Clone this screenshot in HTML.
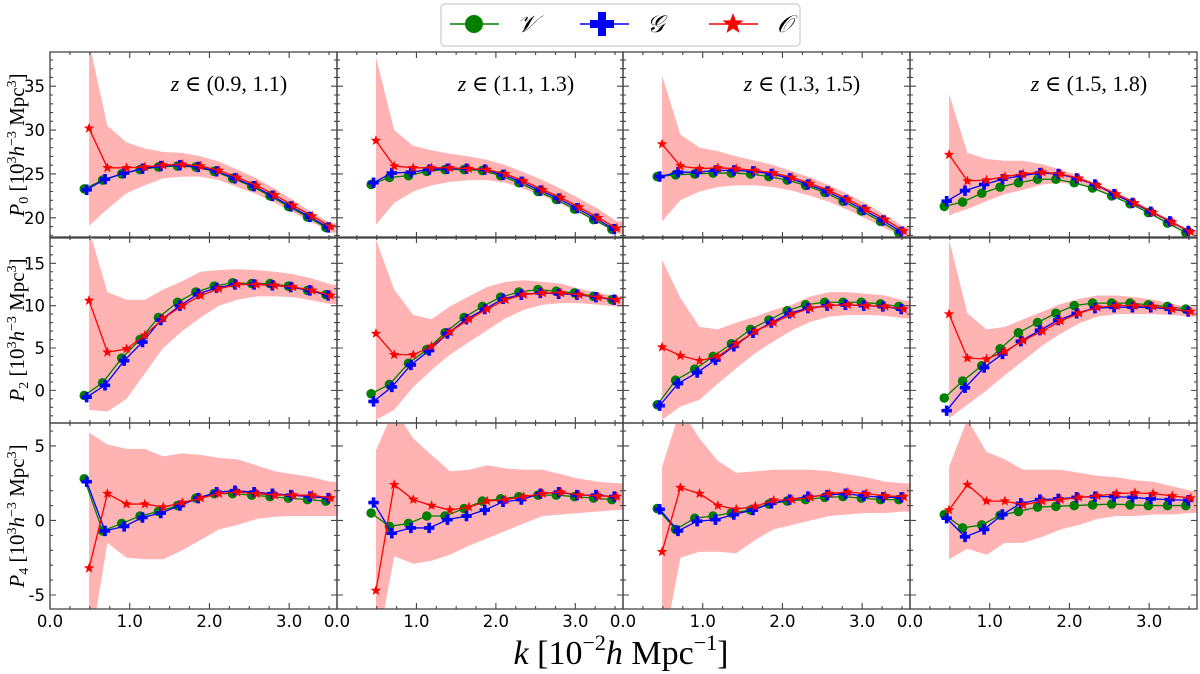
<!DOCTYPE html>
<html><head><meta charset="utf-8"><style>
html,body{margin:0;padding:0;background:#fff;}
svg{display:block;}
text{font-family:"DejaVu Sans","Liberation Sans",sans-serif;}
.serif{font-family:"Liberation Serif","DejaVu Serif",serif;}
</style></head><body>
<svg id="chart" width="1200" height="674" viewBox="0 0 1200 674" xmlns="http://www.w3.org/2000/svg">
<g id="legend">
<rect x="441" y="4" width="359" height="42" rx="4" fill="#fff" stroke="#ccc" stroke-width="1.2"/>
<g>
<line x1="450" y1="24" x2="499" y2="24" stroke="green" stroke-width="1.5"/>
<circle cx="474" cy="24" r="9" fill="green"/>
<text x="517" y="32" class="serif" font-style="italic" font-size="24">𝒱</text>
</g>
<g>
<line x1="580" y1="24" x2="629" y2="24" stroke="blue" stroke-width="1.5"/>
<path d="M598,12h8v8h8v8h-8v8h-8v-8h-8v-8h8z" fill="blue"/>
<text x="647" y="32" class="serif" font-style="italic" font-size="24">𝒢</text>
</g>
<g>
<line x1="709" y1="24" x2="758" y2="24" stroke="red" stroke-width="1.5"/>
<path id="legstar" fill="red"/>
<text x="777" y="32" class="serif" font-style="italic" font-size="24">𝒪</text>
</g>
</g>
<text x="621" y="664" text-anchor="middle" class="serif" font-size="34"><tspan font-style="italic">k</tspan> [10<tspan font-size="22" dy="-14">−2</tspan><tspan dy="14" font-style="italic">h</tspan> Mpc<tspan font-size="22" dy="-14">−1</tspan><tspan dy="14">]</tspan></text>
</svg>
<script>
// shared k grids
const kV = [0.43,0.66,0.90,1.13,1.36,1.60,1.83,2.06,2.29,2.53,2.76,2.99,3.23,3.46];
const kG = [0.46,0.69,0.93,1.16,1.39,1.63,1.86,2.09,2.32,2.56,2.79,3.02,3.26,3.49];
const kO = [0.49,0.72,0.96,1.19,1.42,1.66,1.89,2.12,2.35,2.59,2.82,3.05,3.29,3.52];
const xTicks = [0,1,2,3];
const xTickLabels = ["0.0","1.0","2.0","3.0"];
const zLabels = ["(0.9, 1.1)","(1.1, 1.3)","(1.3, 1.5)","(1.5, 1.8)"];
const yTicksP0 = [20,25,30,35];
const yTicksP2 = [0,5,10,15];
const yTicksP4 = [-5,0,5];
// P0 data [col]
const p0V = [[23.3,24.3,25.0,25.5,25.8,25.9,25.8,25.3,24.5,23.6,22.5,21.3,20.1,18.9],[23.8,24.6,24.8,25.3,25.5,25.5,25.4,24.8,24.0,23.0,22.1,21.0,19.8,18.7],[24.7,24.9,25.0,25.1,25.1,25.0,24.7,24.3,23.7,22.9,21.9,20.8,19.6,18.3],[21.3,21.8,22.8,23.5,24.0,24.4,24.4,24.0,23.4,22.5,21.6,20.6,19.4,18.3]];
const p0G = [[23.2,24.4,25.1,25.6,25.9,26.0,25.8,25.3,24.5,23.6,22.5,21.3,20.1,18.9],[24.0,25.1,25.2,25.5,25.6,25.6,25.5,24.9,24.1,23.1,22.2,21.1,19.9,18.7],[24.7,25.2,25.2,25.4,25.4,25.3,25.0,24.5,23.8,23.0,22.0,20.9,19.7,18.4],[21.9,23.1,23.8,24.4,24.8,25.1,25.0,24.5,23.8,22.7,21.7,20.7,19.6,18.5]];
const p0O = [[30.2,25.7,25.7,25.8,26.0,26.1,25.9,25.4,24.6,23.7,22.6,21.4,20.2,19.0],[28.8,25.9,25.7,25.7,25.7,25.6,25.5,25.0,24.2,23.2,22.3,21.2,20.0,18.8],[28.4,25.9,25.6,25.7,25.6,25.4,25.1,24.6,23.9,23.1,22.1,21.0,19.8,18.5],[27.2,24.2,24.3,24.7,25.0,25.2,25.0,24.5,23.7,22.7,21.7,20.6,19.5,18.4]];
const p0Hi = [[40,30.5,28.6,27.9,27.5,27.4,27.0,26.4,25.5,24.5,23.3,22.0,20.6,19.4],[38.3,30.0,28.2,27.7,27.3,27.0,26.6,26.0,25.2,24.3,23.3,22.2,21.0,19.6],[36.2,29.5,28.0,27.6,27.0,26.5,26.0,25.3,24.6,23.7,22.7,21.6,20.3,19.0],[34.1,27.4,26.7,26.5,26.5,26.1,25.5,24.8,23.8,22.9,21.9,20.8,19.6,18.5]];
const p0Lo = [[19.1,21.0,22.8,23.7,24.5,24.7,24.7,24.3,23.5,22.7,21.7,20.6,19.5,18.3],[19.2,21.7,23.0,23.7,24.1,24.3,24.3,24.0,23.3,22.5,21.6,20.5,19.4,18.2],[19.6,22.0,23.0,23.5,23.7,23.7,23.5,23.1,22.5,21.8,20.9,19.9,18.8,17.8],[20.3,21.0,21.9,22.7,23.2,23.8,24.0,23.8,23.2,22.3,21.3,20.2,19.0,18.0]];
// P2 data
const p2V = [[-0.6,0.9,3.8,6.0,8.6,10.4,11.6,12.3,12.7,12.6,12.6,12.3,11.8,11.3],[-0.4,0.7,3.2,4.8,6.8,8.6,9.9,11.0,11.6,11.9,11.7,11.5,11.1,10.7],[-1.7,1.2,2.5,4.0,5.5,7.2,8.3,9.4,10.1,10.4,10.4,10.4,10.2,9.9],[-0.9,1.1,2.9,4.9,6.8,8.0,9.1,10.0,10.3,10.3,10.3,10.1,9.9,9.6]];
const p2G = [[-0.8,0.6,3.5,5.7,8.3,10.0,11.4,12.1,12.5,12.5,12.4,12.2,11.8,11.2],[-1.3,0.4,3.0,4.7,6.7,8.4,9.6,10.8,11.3,11.5,11.4,11.3,11.0,10.7],[-1.8,0.8,2.1,3.6,5.2,6.8,8.0,9.1,9.7,10.0,10.1,10.0,9.9,9.6],[-2.4,0.3,2.7,4.3,5.8,7.1,8.3,9.1,9.7,9.8,9.8,9.8,9.6,9.3]];
const p2O = [[10.6,4.5,4.9,6.5,8.5,10.0,11.2,12.0,12.5,12.5,12.4,12.2,11.8,11.2],[6.7,4.2,4.2,5.2,6.9,8.4,9.6,10.7,11.3,11.5,11.5,11.3,11.0,10.7],[5.1,4.1,3.5,4.0,5.5,7.0,8.0,9.0,9.7,10.0,10.1,10.0,9.9,9.6],[9.0,3.8,3.7,4.6,5.9,7.0,8.2,9.1,9.8,10.0,10.0,9.9,9.6,9.3]];
const p2Hi = [[19,11.6,10.7,10.7,11.9,12.9,14.0,14.2,14.3,14.2,14.0,13.7,13.2,12.5],[17.8,11.9,8.9,8.4,9.9,11.1,12.2,12.8,13.0,12.8,12.6,12.0,11.5,11.1],[15.4,10.9,7.5,7.2,8.0,8.7,9.5,10.1,11.1,11.6,11.6,11.4,11.2,10.6],[17.8,9.1,7.2,7.5,8.4,9.3,10.2,10.8,11.2,11.2,11.0,10.7,10.2,9.8]];
const p2Lo = [[-2.3,-2.5,-1.0,2.0,5.0,7.0,8.6,10.0,10.7,11.1,11.1,11.0,10.6,10.2],[-3.5,-2.3,0.4,2.4,4.2,5.7,7.1,8.5,9.5,10.1,10.3,10.3,10.1,9.9],[-3.5,-1.9,-1.1,0.8,2.6,4.4,5.8,7.1,8.1,8.7,8.9,8.9,8.8,8.5],[-3.3,-1.7,0.0,1.8,3.5,5.3,6.7,7.9,8.7,9.0,9.0,9.0,8.9,8.7]];
// P4 data
const p4V = [[2.8,-0.7,-0.2,0.3,0.6,1.0,1.5,1.8,1.8,1.7,1.6,1.5,1.4,1.3],[0.5,-0.4,-0.2,0.3,0.3,0.8,1.3,1.45,1.6,1.7,1.7,1.6,1.5,1.4],[0.8,-0.6,0.15,0.3,0.5,0.7,1.1,1.3,1.4,1.55,1.6,1.5,1.4,1.4],[0.4,-0.5,-0.3,0.35,0.6,0.9,0.95,1.0,1.05,1.1,1.05,1.0,1.0,1.0]];
const p4G = [[2.6,-0.7,-0.4,0.2,0.5,1.0,1.5,1.9,2.0,1.9,1.8,1.7,1.6,1.5],[1.2,-0.85,-0.5,-0.5,0.05,0.3,0.7,1.25,1.4,1.8,1.9,1.7,1.7,1.6],[0.75,-0.7,-0.05,0.05,0.4,0.7,1.15,1.4,1.6,1.7,1.8,1.65,1.55,1.55],[0.15,-1.1,-0.6,0.4,1.15,1.4,1.45,1.55,1.6,1.6,1.55,1.45,1.4,1.35]];
const p4O = [[-3.2,1.8,1.1,1.1,0.9,1.2,1.5,1.8,1.9,1.8,1.7,1.7,1.7,1.5],[-4.7,2.4,1.4,1.0,0.7,0.9,1.3,1.4,1.6,1.8,1.9,1.7,1.65,1.6],[-2.1,2.2,1.8,1.0,0.75,0.95,1.35,1.4,1.55,1.8,1.9,1.8,1.65,1.6],[0.7,2.4,1.3,1.3,1.05,1.3,1.4,1.55,1.65,1.8,1.85,1.8,1.65,1.5]];
const p4Hi = [[5.9,5.1,4.8,4.8,4.3,4.5,4.4,4.2,4.1,3.7,3.3,3.1,2.9,2.6],[4.7,7.5,5.5,4.4,3.3,3.4,3.7,3.5,3.4,3.4,3.1,2.8,2.6,2.5],[3.6,7.5,5.5,4.0,3.2,3.3,3.4,3.4,3.4,3.3,3.1,2.9,2.6,2.5],[3.6,6.8,4.6,4.1,3.4,3.4,3.4,3.2,3.0,2.9,2.7,2.6,2.3,2.0]];
const p4Lo = [[-9,-1.5,-2.5,-2.6,-2.6,-2.0,-1.3,-0.6,-0.3,0.1,0.25,0.3,0.3,0.3],[-9,-2.4,-2.9,-2.7,-2.3,-1.7,-1.2,-0.7,-0.2,0.3,0.4,0.5,0.6,0.7],[-9,-2.5,-2.1,-2.1,-2.2,-1.3,-0.6,-0.3,0.0,0.3,0.4,0.5,0.5,0.6],[-2.6,-1.9,-2.3,-1.5,-1.5,-1.1,-0.6,-0.3,0.1,0.3,0.3,0.4,0.4,0.5]];

const NS="http://www.w3.org/2000/svg";
const svg=document.getElementById('chart');
const colX=[50,337,623,910], W=[287,286,287,287];
const rowY=[52,237,423], H=186;
const xDom=[0,3.6];
const rows=[
 {dom:[17.7,38.9],V:p0V,G:p0G,O:p0O,Hi:p0Hi,Lo:p0Lo,ticks:yTicksP0,name:'p0',sub:'0'},
 {dom:[-3.85,18.1],V:p2V,G:p2G,O:p2O,Hi:p2Hi,Lo:p2Lo,ticks:yTicksP2,name:'p2',sub:'2'},
 {dom:[-5.94,6.54],V:p4V,G:p4G,O:p4O,Hi:p4Hi,Lo:p4Lo,ticks:yTicksP4,name:'p4',sub:'4'}
];
function mk(t,a,p){const e=document.createElementNS(NS,t);for(const k in a)e.setAttribute(k,a[k]);(p||svg).appendChild(e);return e;}
function starPath(cx,cy,R){const r=R*0.42;let d='';for(let i=0;i<10;i++){const a=-Math.PI/2+i*Math.PI/5;const rr=i%2?r:R;d+=(i?'L':'M')+(cx+rr*Math.cos(a)).toFixed(2)+','+(cy+rr*Math.sin(a)).toFixed(2);}return d+'Z';}
function plusPath(cx,cy,s){const a=s*0.35;return `M${cx-a},${cy-s}h${2*a}v${s-a}h${s-a}v${2*a}h${-(s-a)}v${s-a}h${-2*a}v${-(s-a)}h${-(s-a)}v${-2*a}h${s-a}z`;}
document.getElementById('legstar').setAttribute('d',starPath(733,24,11));
const defs=mk('defs',{});
rows.forEach((row,ri)=>{
 colX.forEach((x0,ci)=>{
  const w=W[ci], y0=rowY[ri];
  const sx=k=>x0+(k-xDom[0])/(xDom[1]-xDom[0])*w;
  const sy=v=>y0+H-(v-row.dom[0])/(row.dom[1]-row.dom[0])*H;
  const cid='clip'+ri+ci;
  const cp=mk('clipPath',{id:cid},defs);mk('rect',{x:x0,y:y0,width:w,height:H},cp);
  const g=mk('g',{'clip-path':`url(#${cid})`});
  
  
  const hi=row.Hi[ci], lo=row.Lo[ci];
  let d='M'+kO.map((k,i)=>sx(k)+','+sy(hi[i])).join('L');
  d+='L'+sx(3.7)+','+sy(hi[hi.length-1])+'L'+sx(3.7)+','+sy(lo[lo.length-1]);
  for(let i=lo.length-1;i>=0;i--)d+='L'+sx(kO[i])+','+sy(lo[i]);
  const band=mk('path',{d:d+'Z',fill:'#ffb3b3'},g);
  
  
  const series=[['v',kV,row.V[ci],'green'],['g',kG,row.G[ci],'blue'],['o',kO,row.O[ci],'red']];
  series.forEach(([sn,ks,vals,col])=>{
   const ln=mk('polyline',{points:ks.map((k,i)=>sx(k)+','+sy(vals[i])).join(' '),fill:'none',stroke:col,'stroke-width':1.3},g);
   
   
   vals.forEach((v,i)=>{
    let m;
    if(sn==='v')m=mk('circle',{cx:sx(ks[i]),cy:sy(v),r:4.8,fill:col},g);
    else if(sn==='g')m=mk('path',{d:plusPath(sx(ks[i]),sy(v),5.2),fill:col},g);
    else m=mk('path',{d:starPath(sx(ks[i]),sy(v),5.5),fill:col},g);
    
    
   });
  });
  const fr=mk('rect',{x:x0,y:y0,width:w,height:H,fill:'none',stroke:'#444','stroke-width':1.3});
  
  
  let td='';
  for(let t=0;t<=3.5+1e-9;t+=0.25){const X=sx(t);const L=(Math.abs(t-Math.round(t))<1e-6)?6:3;td+=`M${X},${y0+H}v${-L}M${X},${y0}v${L}`;}
  for(let v=Math.ceil(row.dom[0]);v<=row.dom[1];v++){const Y=sy(v);const L=(v%5===0)?6:3;td+=`M${x0},${Y}h${L}M${x0+w},${Y}h${-L}`;}
  mk('path',{d:td,stroke:'#444','stroke-width':1.1,fill:'none'});
  if(ri===2){xTicks.forEach((t,i)=>{const tl=mk('text',{x:sx(t),y:627,'text-anchor':'middle','font-size':16.5,fill:'#000'});tl.textContent=xTickLabels[i];
   
   });}
  if(ci===0){row.ticks.forEach(t=>{const tl=mk('text',{x:45,y:sy(t)+6,'text-anchor':'end','font-size':16.5,fill:'#000'});tl.textContent=String(t);
   
   });}
  if(ri===0){const zt=mk('text',{x:x0+179,y:91,'text-anchor':'middle','font-size':22,class:'serif'});
   zt.innerHTML='<tspan font-style="italic">z</tspan> ∈ '+zLabels[ci];
   
   }
 });
 const cy=rowY[ri]+H/2;
 const yl=mk('text',{x:0,y:0,transform:`translate(24,${cy}) rotate(-90)`,'text-anchor':'middle','font-size':21,class:'serif'});
 yl.innerHTML=`<tspan font-style="italic">P</tspan><tspan font-size="14" dy="4">${row.sub}</tspan><tspan dy="-4"> [10</tspan><tspan font-size="14" dy="-8">3</tspan><tspan dy="8" font-style="italic">h</tspan><tspan font-size="14" dy="-8">−3</tspan><tspan dy="8"> Mpc</tspan><tspan font-size="14" dy="-8">3</tspan><tspan dy="8">]</tspan>`;
 
 
});
</script>
</body></html>
